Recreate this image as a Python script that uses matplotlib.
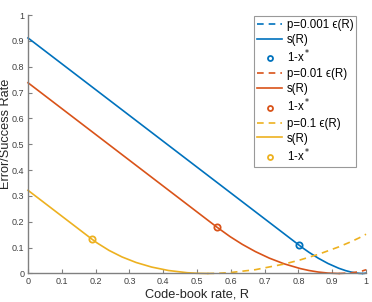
import numpy as np
import matplotlib
matplotlib.use("Agg")
import matplotlib.pyplot as plt

plt.rcParams["font.family"] = ["Liberation Sans", "DejaVu Sans"]

# MATLAB default colours
BLUE, ORANGE, YELLOW = "#0072BD", "#D95319", "#EDB120"

# p = 0.001
r_s1 = [0, 0.80227, 0.81574, 0.83134, 0.85856, 0.88764, 0.91921, 0.93983, 0.95459, 0.97054, 0.97919, 0.98859]
s1 = [0.91157, 0.10930, 0.09619, 0.08189, 0.05929, 0.03855, 0.02029, 0.01102, 0.00585, 0.00187, 0.00056, 0]
r_e1 = [0.98859, 0.99380, 1.0]
e1 = [0, 0.00022, 0.00144]
x1 = (0.80227, 0.10930)

# p = 0.01
r_s2 = [0, 0.55912, 0.59782, 0.63408, 0.67256, 0.71360, 0.75771, 0.80561, 0.83134, 0.85856, 0.88764, 0.91921]
s2 = [0.73817, 0.17905, 0.14267, 0.11263, 0.08482, 0.05957, 0.03738, 0.01899, 0.01157, 0.00565, 0.00158, 0]
r_e2 = [0.91921, 0.95459, 0.97919, 0.98859, 1.0]
e2 = [0, 0.00223, 0.00694, 0.00972, 0.01450]
x2 = (0.55912, 0.17905)

# p = 0.1
r_s3 = [0, 0.18872, 0.20496, 0.23984, 0.27807, 0.31992, 0.36569, 0.41576, 0.47064, 0.50008, 0.53100]
s3 = [0.32193, 0.13321, 0.11774, 0.08922, 0.06406, 0.04251, 0.02488, 0.01155, 0.00303, 0.00078, 0]
r_e3 = [0.53100, 0.56353, 0.59782, 0.67256, 0.75771, 0.80561, 0.85856, 0.91921, 0.95459, 0.97919, 1.0]
e3 = [0, 0.00083, 0.00342, 0.01475, 0.03651, 0.05271, 0.07396, 0.10291, 0.12245, 0.13754, 0.15200]
x3 = (0.18872, 0.13321)

p_labels = ["0.001", "0.01", "0.1"]

fig = plt.figure(figsize=(3.72, 3.02), dpi=100)
ax = fig.add_axes([0.0753, 0.0944, 0.9087, 0.8556])

series = [(r_e1, e1, r_s1, s1, x1, BLUE),
          (r_e2, e2, r_s2, s2, x2, ORANGE),
          (r_e3, e3, r_s3, s3, x3, YELLOW)]

for (re, e, rs, s, xs, c), pl in zip(series, p_labels):
    ax.plot(re, e, "--", color=c, lw=1.2, dashes=(4, 3),
            label="p=%s \u03f5(R)" % pl, clip_on=False)
    ax.plot(rs, s, "-", color=c, lw=1.2, label="s(R)", clip_on=False)
    ax.plot([xs[0]], [xs[1]], "o", color=c, mfc="none", ms=4.5, mew=1.3,
            label=r"1-x$^*$", clip_on=False)

ax.set_xlim(0, 1)
ax.set_ylim(0, 1)
ticks = np.round(np.arange(0, 1.01, 0.1), 1)
ax.set_xticks(ticks)
ax.set_yticks(ticks)
ax.set_xticklabels(["%g" % t for t in ticks])
ax.set_yticklabels(["%g" % t for t in ticks])

for side in ["top", "right"]:
    ax.spines[side].set_visible(False)
for side in ["left", "bottom"]:
    ax.spines[side].set_color("#808080")
    ax.spines[side].set_linewidth(1.0)
    ax.spines[side].set_zorder(5)
ax.tick_params(direction="in", length=3, width=0.8, colors="#808080",
               labelcolor="#404040", labelsize=6.5, pad=2.5)

ax.set_xlabel("Code-book rate, R", fontsize=9.2, color="#262626", labelpad=2)
ax.set_ylabel("Error/Success Rate", fontsize=9.2, color="#262626")
ax.yaxis.set_label_coords(-0.047, 0.54)

leg = ax.legend(loc="upper right", bbox_to_anchor=(0.975, 1.0), fontsize=8.3,
                frameon=True, fancybox=False, edgecolor="#808080",
                handlelength=2.2, handletextpad=0.4, borderpad=0.25,
                labelspacing=0.25, borderaxespad=0.1, markerscale=0.8)
leg.get_frame().set_linewidth(0.8)

fig.savefig("out.png", dpi=100)
